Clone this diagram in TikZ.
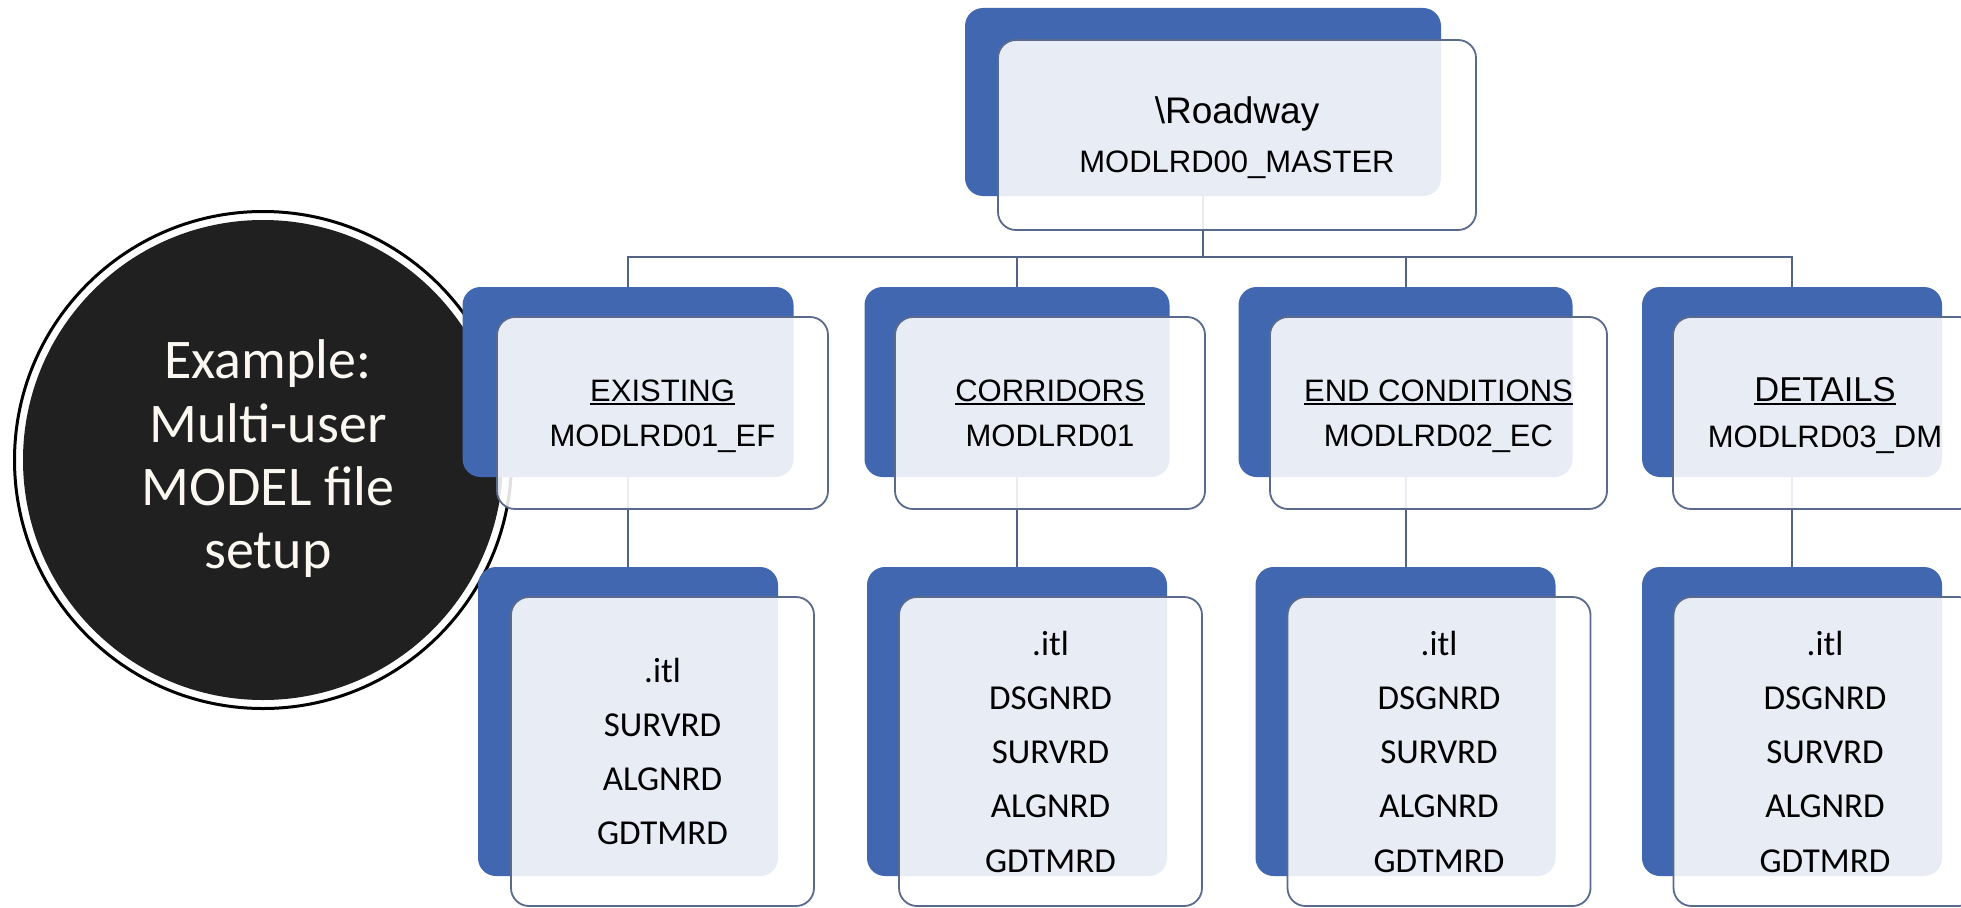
\documentclass[tikz,border=0pt]{standalone}
\usepackage{fontspec}
\newfontfamily\arialf{Liberation Sans}
\newfontfamily\calf{Carlito}
\definecolor{boxblue}{RGB}{65,103,177}
\definecolor{edgeblue}{RGB}{90,106,140}
\definecolor{linecol}{RGB}{82,99,134}
\definecolor{circfill}{RGB}{32,32,32}
\definecolor{circtext}{RGB}{250,248,240}
\newcommand\ulin[1]{\setbox0\hbox{#1}\rlap{\rule[-4pt]{\wd0}{1.8pt}}\box0}
\begin{document}
\begin{tikzpicture}[x=1pt,y=-1pt,
  backbox/.style={draw=none, fill=boxblue, rounded corners=18pt, inner sep=0pt},
  frontbox/.style={draw=edgeblue, line width=1.8pt, fill=white, fill opacity=0.88, text opacity=1, rounded corners=18pt, inner sep=0pt},
  titletext/.style={font=\arialf\fontsize{31pt}{37pt}\selectfont, anchor=base, inner sep=0pt, text=black},
  listtext/.style={font=\calf\fontsize{35pt}{54.25pt}\selectfont, align=center, text=black},
  conn/.style={draw=linecol, line width=2pt}]
\useasboundingbox (0,0) rectangle (1961,907);
\clip (0,0) rectangle (1961,907);
\fill[white] (0,0) rectangle (1961,907);

% circle
\node[circle, draw=black, line width=3pt, minimum size=497pt, inner sep=0pt] (ring) at (263,460) {};
\node[circle, fill=circfill, minimum size=480pt, inner sep=0pt] (disc) at (263,460) {};
\node[font=\calf\fontsize{56pt}{63.3pt}\selectfont, align=center, text=circtext] (ctext) at (268,459) {Example:\\Multi-user\\MODEL file\\setup};

% back (blue) boxes
\node[backbox, minimum width=476pt, minimum height=188pt] (b0) at (1203,102) {};
\node[backbox, minimum width=331pt, minimum height=190pt] (b1) at (628,382) {};
\node[backbox, minimum width=305pt, minimum height=190pt] (b2) at (1017,382) {};
\node[backbox, minimum width=334pt, minimum height=190pt] (b3) at (1405.5,382) {};
\node[backbox, minimum width=300pt, minimum height=190pt] (b4) at (1792,382) {};
\node[backbox, minimum width=300pt, minimum height=309pt] (c1) at (628,721.5) {};
\node[backbox, minimum width=300pt, minimum height=309pt] (c2) at (1017,721.5) {};
\node[backbox, minimum width=300pt, minimum height=309pt] (c3) at (1405.5,721.5) {};
\node[backbox, minimum width=300pt, minimum height=309pt] (c4) at (1792,721.5) {};

% connectors
\coordinate (bus) at (0,257);
\foreach \k in {1,...,4}{
  \draw[conn] (b0.south) -- (b0.south |- bus) -| (b\k.north);
  \draw[conn] (b\k.south) -- (c\k.north);
}

% front (white) boxes
\node[frontbox, minimum width=478pt, minimum height=190pt] (w0) at (1237,135) {};
\node[frontbox, minimum width=331pt, minimum height=192pt] (w1) at (662.5,413) {};
\node[frontbox, minimum width=310pt, minimum height=192pt] (w2) at (1050,413) {};
\node[frontbox, minimum width=337pt, minimum height=192pt] (w3) at (1438.5,413) {};
\node[frontbox, minimum width=304pt, minimum height=192pt] (w4) at (1825,413) {};

\node[frontbox, listtext, minimum width=303pt, minimum height=309pt] (v1) at (662.5,751.5) {.itl\\SURVRD\\ALGNRD\\GDTMRD};
\node[frontbox, listtext, minimum width=303pt, minimum height=309pt] (v2) at (1050.5,751.5) {.itl\\DSGNRD\\SURVRD\\ALGNRD\\GDTMRD};
\node[frontbox, listtext, minimum width=303pt, minimum height=309pt] (v3) at (1439,751.5) {.itl\\DSGNRD\\SURVRD\\ALGNRD\\GDTMRD};
\node[frontbox, listtext, minimum width=303pt, minimum height=309pt] (v4) at (1825,751.5) {.itl\\DSGNRD\\SURVRD\\ALGNRD\\GDTMRD};

% texts
\node[titletext, font=\arialf\fontsize{37pt}{44pt}\selectfont] (t0) at (1237,123) {\textbackslash Roadway};
\node[titletext] (m0) at (1237,172) {MODLRD00\_MASTER};
\node[titletext] (t1) at (662.5,401) {\ulin{EXISTING}};
\node[titletext] (m1) at (662.5,446) {MODLRD01\_EF};
\node[titletext] (t2) at (1050,401) {\ulin{CORRIDORS}};
\node[titletext] (m2) at (1050,446) {MODLRD01};
\node[titletext] (t3) at (1438.5,401) {\ulin{END CONDITIONS}};
\node[titletext] (m3) at (1438.5,446) {MODLRD02\_EC};
\node[titletext, font=\arialf\fontsize{34.5pt}{41pt}\selectfont] (t4) at (1825,401) {\ulin{DETAILS}};
\node[titletext] (m4) at (1825,447) {MODLRD03\_DM};
\end{tikzpicture}
\end{document}
